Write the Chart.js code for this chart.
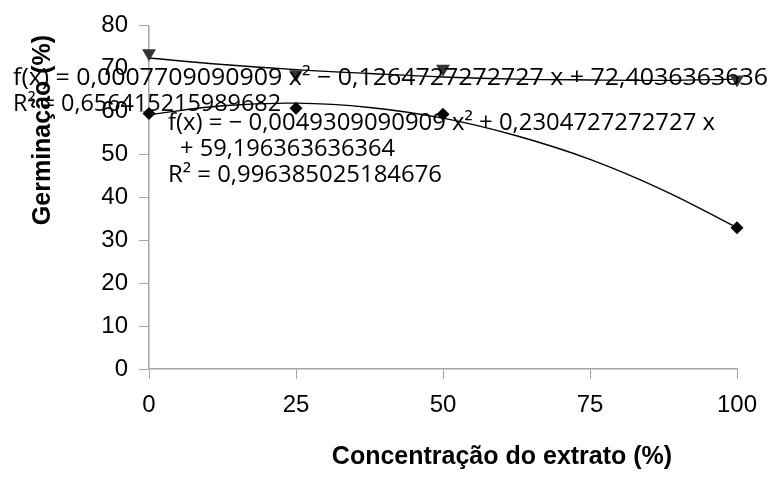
<!DOCTYPE html>
<html>
<head>
<meta charset="utf-8">
<script src="https://cdn.jsdelivr.net/npm/chart.js@4.4.1/dist/chart.umd.min.js"></script>
<style>
  html, body { margin: 0; padding: 0; background: #fff; }
  #wrap { width: 771px; height: 484px; }
</style>
</head>
<body>
<div id="wrap"><canvas id="germ" width="771" height="484"></canvas></div>
<script>
// concentração do extrato (%)
const concentracao = [0, 25, 50, 100];
// série com triângulos e série com losangos
const germTriangulo = [73.5, 68.6, 69.9, 67.4];
const germLosango = [59.5, 60.7, 59.3, 32.9];

// linhas de tendência (polinomial)
const trendX = [0, 12.5, 25, 37.5, 50, 62.5, 75, 87.5, 100];
const trendTriangulo = [72.4, 70.9, 69.7, 68.8, 68.0, 67.5, 67.3, 67.2, 67.5];
const trendLosango = [59.2, 61.3, 61.9, 60.9, 58.4, 54.3, 48.8, 41.6, 32.9];

const xTicks = [0, 25, 50, 75, 100];
const yTicks = [0, 10, 20, 30, 40, 50, 60, 70, 80];

const eqTriangulo = ['f(x) = 0,0007709090909 x² − 0,1264727272727 x + 72,4036363636', 'R² = 0,656415215989682'];
const eqLosango = ['f(x) = − 0,0049309090909 x² + 0,2304727272727 x', '+ 59,196363636364', 'R² = 0,996385025184676'];

const xTitle = 'Concentração do extrato (%)';
const yTitle = 'Germinação (%)';

const toPts = (xs, ys) => xs.map((x, i) => ({ x: x, y: ys[i] }));

const axisColor = '#a6a6a6';
const tickFont = { family: 'Liberation Sans', size: 24 };

// escreve o texto esticado até a largura que ele ocupa no original
function fitText(ctx, txt, x, y, w) {
  const m = ctx.measureText(txt).width;
  ctx.save();
  ctx.translate(x, y);
  ctx.scale(w / m, 1);
  ctx.fillText(txt, 0, 0);
  ctx.restore();
}

// textos: equações e títulos dos eixos
const textPlugin = {
  id: 'textos',
  afterDraw(chart) {
    const ctx = chart.ctx;
    ctx.save();
    ctx.fillStyle = '#000';

    ctx.font = 'bold 25px "Liberation Sans"';
    ctx.textAlign = 'center';
    ctx.textBaseline = 'alphabetic';
    ctx.fillText(xTitle, 502, 464);

    ctx.save();
    ctx.translate(43, 130);
    ctx.rotate(-Math.PI / 2);
    ctx.textBaseline = 'middle';
    ctx.fillText(yTitle, 0, 0);
    ctx.restore();

    ctx.font = '24px "Open Sans"';
    ctx.textAlign = 'left';
    ctx.textBaseline = 'alphabetic';
    fitText(ctx, eqTriangulo[0], 13, 85, 755);
    fitText(ctx, eqTriangulo[1], 13, 111, 268);
    fitText(ctx, eqLosango[0], 168, 130, 547);
    fitText(ctx, eqLosango[1], 180, 156, 215);
    fitText(ctx, eqLosango[2], 168, 182, 274);
    ctx.restore();
  }
};

new Chart(document.getElementById('germ').getContext('2d'), {
  type: 'scatter',
  data: {
    datasets: [
      {
        data: toPts(concentracao, germTriangulo),
        pointStyle: 'triangle',
        rotation: 180,
        pointRadius: 8,
        backgroundColor: '#333333',
        borderColor: '#333333',
        borderWidth: 0,
        showLine: false,
        clip: false
      },
      {
        data: toPts(concentracao, germLosango),
        pointStyle: 'rectRot',
        pointRadius: 6.5,
        backgroundColor: '#000000',
        borderColor: '#000000',
        borderWidth: 0,
        showLine: false,
        clip: false
      },
      {
        data: toPts(trendX, trendTriangulo),
        showLine: true,
        borderColor: '#000000',
        borderWidth: 1.4,
        pointRadius: 0,
        tension: 0.4,
        clip: false
      },
      {
        data: toPts(trendX, trendLosango),
        showLine: true,
        borderColor: '#000000',
        borderWidth: 1.4,
        pointRadius: 0,
        tension: 0.4,
        clip: false
      }
    ]
  },
  options: {
    responsive: false,
    animation: false,
    layout: { padding: { top: 21, right: 34, left: 0, bottom: 0 } },
    plugins: {
      legend: { display: false },
      tooltip: { enabled: false }
    },
    scales: {
      x: {
        type: 'linear',
        min: 0,
        max: 100,
        afterBuildTicks: (s) => { s.ticks = xTicks.map(v => ({ value: v })); },
        ticks: { color: '#000', font: tickFont, padding: 12, maxRotation: 0 },
        grid: { drawOnChartArea: false, tickLength: 10, color: axisColor },
        border: { color: axisColor, width: 1.5 },
        afterFit: (s) => { s.height = 115; }
      },
      y: {
        min: 0,
        max: 80,
        afterBuildTicks: (s) => { s.ticks = yTicks.map(v => ({ value: v })); },
        ticks: { color: '#000', font: tickFont, padding: 11 },
        grid: { drawOnChartArea: false, tickLength: 10, color: axisColor },
        border: { color: axisColor, width: 1.5 },
        afterFit: (s) => { s.width = 149; }
      }
    }
  },
  plugins: [textPlugin]
});
</script>
</body>
</html>
